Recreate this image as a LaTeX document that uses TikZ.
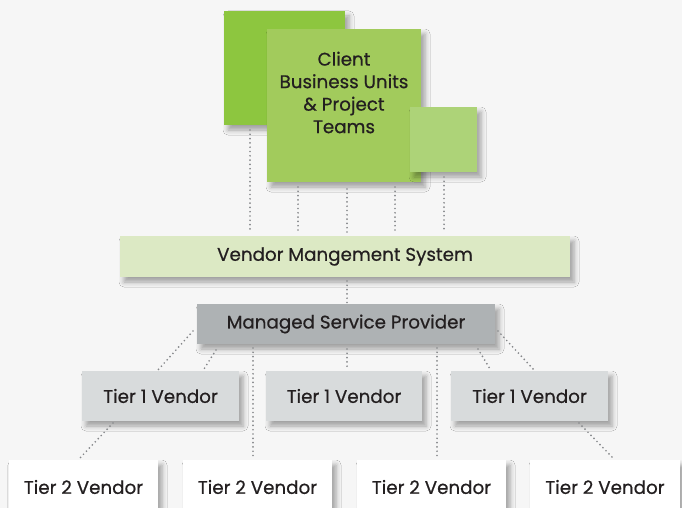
\documentclass[tikz,border=0pt]{standalone}
\usepackage{fontspec}
\setmainfont{Poppins}[BoldFont=Poppins, BoldFeatures={FakeBold=0.6}]
\usetikzlibrary{shadows.blur}
\definecolor{bg}{HTML}{F6F6F6}
\definecolor{gA}{HTML}{8DC63F}
\definecolor{gB}{HTML}{A2CB5C}
\definecolor{gC}{HTML}{ADD378}
\definecolor{vms}{HTML}{DCE9C4}
\definecolor{msp}{HTML}{AEB2B4}
\definecolor{tone}{HTML}{D8DBDC}
\definecolor{txt}{HTML}{231F20}
\definecolor{dotc}{HTML}{85878A}
\tikzset{
  x=1pt, y=-1pt,
  shad/.style={blur shadow={shadow xshift=4pt, shadow yshift=-5pt, shadow blur radius=5pt, shadow opacity=35}},
  boxn/.style={shad, inner sep=0pt, text=txt, font=\fontsize{18.3}{22.5}\selectfont\bfseries, align=center},
  dotline/.style={draw=dotc, line width=1.9pt, line cap=round, dash pattern=on 0pt off 4.3pt},
}
\begin{document}
\begin{tikzpicture}
\useasboundingbox (0,0) rectangle (682,508);
\fill[bg] (0,0) rectangle (682,508);
\clip (0,0) rectangle (682,508);
% client boxes
\node[boxn, fill=gA, minimum width=121pt, minimum height=114pt] (ca) at (284.5,68) {};
\node[boxn, fill=gB, minimum width=154pt, minimum height=153pt] (cb) at (344,105.5) {};
\node[boxn, fill=gC, minimum width=67pt, minimum height=65pt] (cc) at (443.5,139.5) {};
\node[text=txt, font=\fontsize{18.3}{22.5}\selectfont\bfseries, align=center] (ct) at (344,92.5) {Client\\Business Units\\\& Project\\Teams};
% vms
\node[boxn, fill=vms, minimum width=450pt, minimum height=41pt] (vms) at (345,256.5) {Vendor Mangement System};
% msp
\node[boxn, fill=msp, minimum width=298pt, minimum height=40pt] (msp) at (346,324) {Managed Service Provider};
% tier 1
\node[boxn, fill=tone, minimum width=157pt, minimum height=50pt] (ta) at (160.5,396) {Tier 1 Vendor};
\node[boxn, fill=tone, minimum width=156pt, minimum height=50pt] (tb) at (344,396) {Tier 1 Vendor};
\node[boxn, fill=tone, minimum width=157pt, minimum height=50pt] (tc) at (529.5,396) {Tier 1 Vendor};
% tier 2
\node[boxn, fill=white, minimum width=149pt, minimum height=54pt] (sa) at (83.5,487) {Tier 2 Vendor};
\node[boxn, fill=white, minimum width=149pt, minimum height=54pt] (sb) at (257.5,487) {Tier 2 Vendor};
\node[boxn, fill=white, minimum width=149pt, minimum height=54pt] (sc) at (431.5,487) {Tier 2 Vendor};
\node[boxn, fill=white, minimum width=150pt, minimum height=54pt] (sd) at (605,487) {Tier 2 Vendor};
% connector coordinates
\coordinate (a1) at (250,130); \coordinate (a2) at (250,232);
\coordinate (b1) at (298,187); \coordinate (b2) at (298,232);
\coordinate (c1) at (347,189); \coordinate (c2) at (347,235);
\coordinate (d1) at (395,187); \coordinate (d2) at (395,232);
\coordinate (e1) at (444,177); \coordinate (e2) at (444,232);
\coordinate (f1) at (347,281); \coordinate (f2) at (347,303);
\coordinate (g1) at (193,331); \coordinate (g2) at (158,370);
\coordinate (h1) at (216,350); \coordinate (h2) at (204,369);
\coordinate (i1) at (347,349); \coordinate (i2) at (347,369);
\coordinate (j1) at (478,349); \coordinate (j2) at (490,369);
\coordinate (k1) at (498,331); \coordinate (k2) at (534,370);
\coordinate (l1) at (253,348); \coordinate (l2) at (253,458);
\coordinate (m1) at (437,348); \coordinate (m2) at (437,458);
\coordinate (n1) at (113,423); \coordinate (n2) at (80,458);
\coordinate (o1) at (579,423); \coordinate (o2) at (613,458);
\foreach \p in {a,b,c,d,e,f,g,h,i,j,k,l,m,n,o}{
  \draw[dotline] (\p1) -- (\p2);
}
\end{tikzpicture}
\end{document}
